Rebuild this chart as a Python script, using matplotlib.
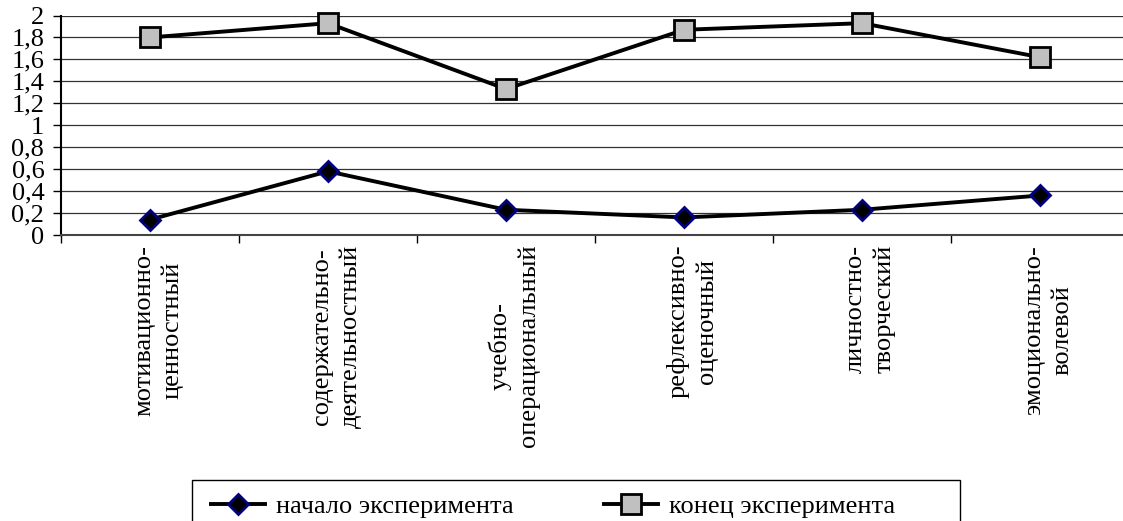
import numpy as np
import matplotlib
matplotlib.use('Agg')
import matplotlib.pyplot as plt
from matplotlib.ticker import FuncFormatter, FixedLocator
from matplotlib.transforms import ScaledTranslation

plt.rcParams['font.family'] = ['Liberation Serif', 'DejaVu Serif']

# Данные
categorias = ['мотивационно-\nценностный', 'содержательно-\nдеятельностный',
              'учебно-\nоперациональный', 'рефлексивно-\nоценочный',
              'личностно-\nтворческий', 'эмоционально-\nволевой']
inicio = [0.14, 0.58, 0.23, 0.16, 0.23, 0.36]
final = [1.8, 1.93, 1.33, 1.87, 1.93, 1.62]
nombres = ['начало эксперимента', 'конец эксперимента']
y_ticks = [0, 0.2, 0.4, 0.6, 0.8, 1, 1.2, 1.4, 1.6, 1.8, 2]

W, H = 1123, 521
fs = 19
fig = plt.figure(figsize=(W / 100, H / 100), dpi=100)
ax = fig.add_axes([61 / W, 1 - 235 / H, 1068 / W, 219.5 / H])

x = np.arange(len(categorias))
ax.plot(x, inicio, color='black', lw=2.8, marker='D', markersize=10,
        markerfacecolor='black', markeredgecolor='#000080', markeredgewidth=2,
        label=nombres[0], zorder=3, clip_on=False)
ax.plot(x, final, color='black', lw=2.8, marker='s', markersize=15,
        markerfacecolor='#c0c0c0', markeredgecolor='black', markeredgewidth=2,
        label=nombres[1], zorder=3, clip_on=False)

ax.set_xlim(-0.5, len(categorias) - 0.5)
ax.set_ylim(0, 2)
ax.set_yticks(y_ticks)
ax.yaxis.set_major_formatter(FuncFormatter(lambda v, p: ('%g' % round(v, 1)).replace('.', ',')))
ax.grid(axis='y', color='#333333', lw=0.9, zorder=1)

ax.xaxis.set_minor_locator(FixedLocator(np.arange(-0.5, len(categorias), 1)))
ax.tick_params(axis='x', which='major', length=0, pad=7)
ax.tick_params(axis='x', which='minor', length=6, width=1, color='black')
ax.tick_params(axis='y', length=6, width=1, labelsize=fs, pad=6)

ax.set_xticks(x)
ax.set_xticklabels(categorias, rotation=90, va='top', ha='center',
                   multialignment='center', fontsize=fs, linespacing=1.35)
# desplazar un poco las etiquetas a la derecha
desplazar = ScaledTranslation(6 / 72, 0, fig.dpi_scale_trans)
for etiqueta in ax.get_xticklabels():
    etiqueta.set_transform(etiqueta.get_transform() + desplazar)

for s in ['top', 'right']:
    ax.spines[s].set_visible(False)
ax.spines['left'].set_linewidth(1.5)
ax.spines['bottom'].set_linewidth(1.5)
ax.spines['bottom'].set_color('#444444')

# Leyenda
fig.legend(loc='center left', bbox_to_anchor=(211 / W, 1 - 506 / H), ncol=2,
           frameon=False, fontsize=fs, handlelength=2.05, handletextpad=0.4,
           columnspacing=3.45, borderpad=0, borderaxespad=0)
marco = plt.Rectangle((192 / W, -0.05), (960 - 192) / W, 0.05 + 1 - 480 / H,
                      transform=fig.transFigure, fill=False, edgecolor='black',
                      lw=1, clip_on=False)
fig.patches.append(marco)

fig.savefig('out.png', dpi=100)
